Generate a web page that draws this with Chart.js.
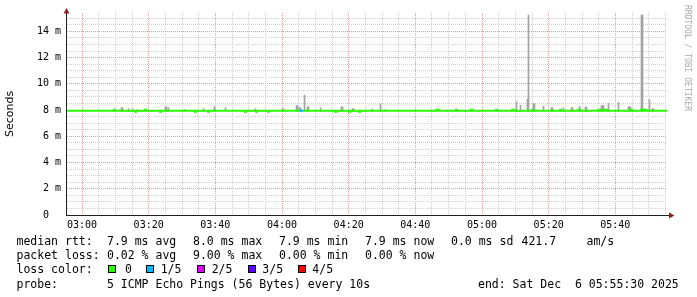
<!DOCTYPE html>
<html><head><meta charset="utf-8">
<script src="https://cdn.jsdelivr.net/npm/chart.js@4/dist/chart.umd.min.js"></script>
<style>
html,body{margin:0;padding:0;background:#fff}
#wrap{position:relative;width:697px;height:297px;overflow:hidden;background:#fff}
#c{position:absolute;left:0;top:0}
.t{position:absolute;font-family:"DejaVu Sans Mono",monospace;font-size:11.5px;line-height:14px;white-space:pre;color:#000}
.box{position:absolute;width:6px;height:6px;border:1px solid #000}
#wm{position:absolute;left:682px;top:5px;writing-mode:vertical-rl;font-family:"DejaVu Sans Mono",monospace;font-size:8px;line-height:10px;color:#aaa;white-space:pre}
</style></head><body>
<div id="wrap">
<canvas id="c" width="697" height="297"></canvas>
<div id="wm">RRDTOOL / TOBI OETIKER</div>

<div class="t" style="left:16.5px;top:234px">median rtt:</div>
<div class="t" style="left:107px;top:234px">7.9 ms avg</div>
<div class="t" style="left:193px;top:234px">8.0 ms max</div>
<div class="t" style="left:279px;top:234px">7.9 ms min</div>
<div class="t" style="left:365px;top:234px">7.9 ms now</div>
<div class="t" style="left:451px;top:234px">0.0 ms sd</div>
<div class="t" style="left:521.5px;top:234px">421.7</div>
<div class="t" style="left:586.5px;top:234px">am/s</div>

<div class="t" style="left:16.5px;top:248.3px">packet loss:</div>
<div class="t" style="left:107px;top:248.3px">0.02 % avg</div>
<div class="t" style="left:193px;top:248.3px">9.00 % max</div>
<div class="t" style="left:279px;top:248.3px">0.00 % min</div>
<div class="t" style="left:365px;top:248.3px">0.00 % now</div>

<div class="t" style="left:16.5px;top:262.4px">loss color:</div>
<div id="lossLegend"></div>

<div class="t" style="left:16.5px;top:276.7px">probe:</div>
<div class="t" style="left:107px;top:276.7px">5 ICMP Echo Pings (56 Bytes) every 10s</div>
<div class="t" style="left:478px;top:276.7px">end: Sat Dec  6 05:55:30 2025</div>
</div>
<script>
// time axis in minutes after midnight: 02:55:30 .. 05:55:30
const timeStart = 175.5, timeEnd = 355.5;
const yTop = 15.4; // ms
const xTickValues = [180, 200, 220, 240, 260, 280, 300, 320, 340];
const xTickLabels = ['03:00','03:20','03:40','04:00','04:20','04:40','05:00','05:20','05:40'];
const yTickValues = [0, 2, 4, 6, 8, 10, 12, 14];
const yTickLabels = ['0','2 m','4 m','6 m','8 m','10 m','12 m','14 m'];

// median rtt (ms), stepped; loss = pings lost of 5
const medianTimes = [175.5,189.6,189.9,195.9,196.2,198.9,199.2,203.4,203.7,213.9,214.2,217.8,218.1,
  228.9,229.2,232.2,232.5,235.8,236.1,245.4,246.3,255.9,256.2,260.1,260.4,263.1,263.4,
  286.5,286.8,292.2,292.5,296.7,297.0,304.2,304.5,309.0,309.6,315.0,315.3,323.4,323.7,
  328.8,329.4,334.8,335.4,336.9,337.5,344.4,345.0,347.7,348.3,348.9,349.2,355.5];
const medianValues = [7.95,8.03,7.95,7.87,7.95,8.03,7.95,7.87,7.95,7.87,7.95,7.87,7.95,
  7.87,7.95,7.87,7.95,7.87,7.95,7.95,7.95,7.87,7.95,7.87,7.95,7.87,7.95,
  8.03,7.95,8.03,7.95,8.03,7.95,8.03,7.95,8.03,7.95,8.03,7.95,8.03,7.95,
  8.03,7.95,8.03,7.95,8.03,7.95,8.03,7.95,8.03,7.95,8.03,7.95,7.95];
const medianLoss = [0,0,0,0,0,0,0,0,0,0,0,0,0,
  0,0,0,0,0,0,1,0,0,0,0,0,0,0,
  0,0,0,0,0,0,0,0,0,0,0,0,0,0,
  0,0,0,0,0,0,0,0,0,0,0,0,0];

// smoke: highest ping of each sample (ms)
const smokeTimes = [191.85,192.15,193.95,195.15,196.65,205.05,205.35,205.95,210.75,216.45,219.75,223.05,232.05,
  240.15,240.45,244.35,244.65,245.25,245.55,246.75,247.65,247.95,251.55,257.85,258.15,261.15,261.45,267.15,269.55,271.05,
  310.35,311.55,313.65,313.95,315.45,315.75,318.45,320.85,321.15,324.45,326.85,327.15,329.25,331.05,331.35,
  335.85,336.15,336.45,337.95,340.95,343.95,344.25,344.55,347.85,348.15,350.25,351.15,351.45];
const smokeTops = [8.18,8.18,8.1,8.1,8.05,8.25,8.25,8.18,8.05,8.1,8.25,8.18,8.1,
  8.1,8.1,8.33,8.33,8.18,8.18,9.14,8.25,8.25,8.18,8.25,8.25,8.1,8.1,8.1,8.48,8.05,
  8.63,8.38,8.84,15.24,8.48,8.48,8.3,8.18,8.18,8.15,8.18,8.18,8.28,8.23,8.23,
  8.33,8.33,8.33,8.5,8.58,8.25,8.25,8.25,15.24,15.24,8.79,8.1,8.1];
const smokeFloor = 7.9;

const lossLabels = ['0','1/5','2/5','3/5','4/5'];
const lossColors = ['#26ff00','#00b8ff','#dd00ff','#5e00ff','#ff0000'];

// loss colour legend
(function(){
  const boxX = [108, 145.5, 197, 247.5, 298];
  const txtX = [125, 160.7, 211.7, 262.3, 312.3];
  const host = document.getElementById('lossLegend');
  lossLabels.forEach((l, i) => {
    const b = document.createElement('div');
    b.className = 'box';
    b.style.left = boxX[i] + 'px'; b.style.top = '265px';
    b.style.background = lossColors[i];
    host.appendChild(b);
    const t = document.createElement('div');
    t.className = 't';
    t.style.left = txtX[i] + 'px'; t.style.top = '262.4px';
    t.textContent = l;
    host.appendChild(t);
  });
})();

const minorGrid = '#cfcfcf';
const majorGrid = '#dc9c9c';

const rrdAxes = {
  id: 'rrdAxes',
  afterDatasetsDraw(chart) {
    const {ctx, chartArea: a} = chart;
    ctx.save();
    ctx.strokeStyle = '#202020';
    ctx.lineWidth = 1;
    ctx.beginPath();
    ctx.moveTo(a.left - 0.5, a.bottom + 1);
    ctx.lineTo(a.left - 0.5, a.top);
    ctx.moveTo(a.left - 1, a.bottom + 0.5);
    ctx.lineTo(a.right + 3, a.bottom + 0.5);
    ctx.stroke();
    ctx.fillStyle = '#8b1f1f';
    ctx.beginPath();
    ctx.moveTo(a.left - 0.5, a.top - 5);
    ctx.lineTo(a.left - 3.5, a.top + 0.5);
    ctx.lineTo(a.left + 2.5, a.top + 0.5);
    ctx.closePath(); ctx.fill();
    ctx.beginPath();
    ctx.moveTo(a.right + 7.5, a.bottom + 0.5);
    ctx.lineTo(a.right + 2, a.bottom - 2.5);
    ctx.lineTo(a.right + 2, a.bottom + 3.5);
    ctx.closePath(); ctx.fill();
    ctx.restore();
  }
};

new Chart(document.getElementById('c'), {
  type: 'line',
  data: {
    datasets: [
      {
        type: 'bar', label: 'smoke',
        data: smokeTimes.map((t, i) => ({x: t, y: [smokeFloor, smokeTops[i]]})),
        backgroundColor: '#a2a2a2', borderWidth: 0, barThickness: 1, order: 2
      },
      {
        type: 'line', label: 'median rtt',
        data: medianTimes.map((t, i) => ({x: t, y: medianValues[i]})),
        stepped: true, borderWidth: 2, pointRadius: 0, fill: false, order: 1,
        borderColor: lossColors[0],
        segment: { borderColor: c => lossColors[medianLoss[c.p0DataIndex]] }
      }
    ]
  },
  options: {
    responsive: false, animation: false, devicePixelRatio: 1,
    layout: { padding: { top: 13, right: 30, left: 0, bottom: 0 } },
    plugins: { legend: { display: false }, tooltip: { enabled: false } },
    scales: {
      x: {
        type: 'linear', min: timeStart, max: timeEnd, offset: false,
        afterBuildTicks: s => { const t = []; for (let v = 180; v <= 355; v += 5) t.push({value: v}); s.ticks = t; },
        afterFit: s => { s.height = 82; },
        ticks: {
          autoSkip: false, maxRotation: 0, minRotation: 0, padding: 4, color: '#000',
          font: { family: 'DejaVu Sans Mono', size: 10 },
          callback: v => { const i = xTickValues.indexOf(v); return i >= 0 ? xTickLabels[i] : ''; }
        },
        grid: { offset: false, drawTicks: false, lineWidth: 1,
          color: c => xTickValues.includes(c.tick.value) ? majorGrid : minorGrid },
        border: { display: false, dash: [1, 1] }
      },
      y: {
        type: 'linear', min: 0, max: yTop,
        afterBuildTicks: s => { const t = []; for (let v = 0; v <= 15; v += 0.5) t.push({value: v}); s.ticks = t; },
        afterFit: s => { s.width = 67; },
        ticks: {
          autoSkip: false, padding: 6, color: '#000',
          font: { family: 'DejaVu Sans Mono', size: 10 },
          callback: v => { const i = yTickValues.indexOf(v); if (i < 0) return ''; const l = yTickLabels[i]; return l.length === 1 ? l + '  ' : l; }
        },
        grid: { drawTicks: false, lineWidth: 1,
          color: c => yTickValues.includes(c.tick.value) ? majorGrid : minorGrid },
        border: { display: false, dash: [1, 1] },
        title: { display: true, text: 'Seconds', color: '#000',
          font: { family: 'DejaVu Sans', size: 11 }, padding: { top: 4, bottom: 0 } }
      }
    }
  },
  plugins: [rrdAxes]
});
</script>
</body></html>
